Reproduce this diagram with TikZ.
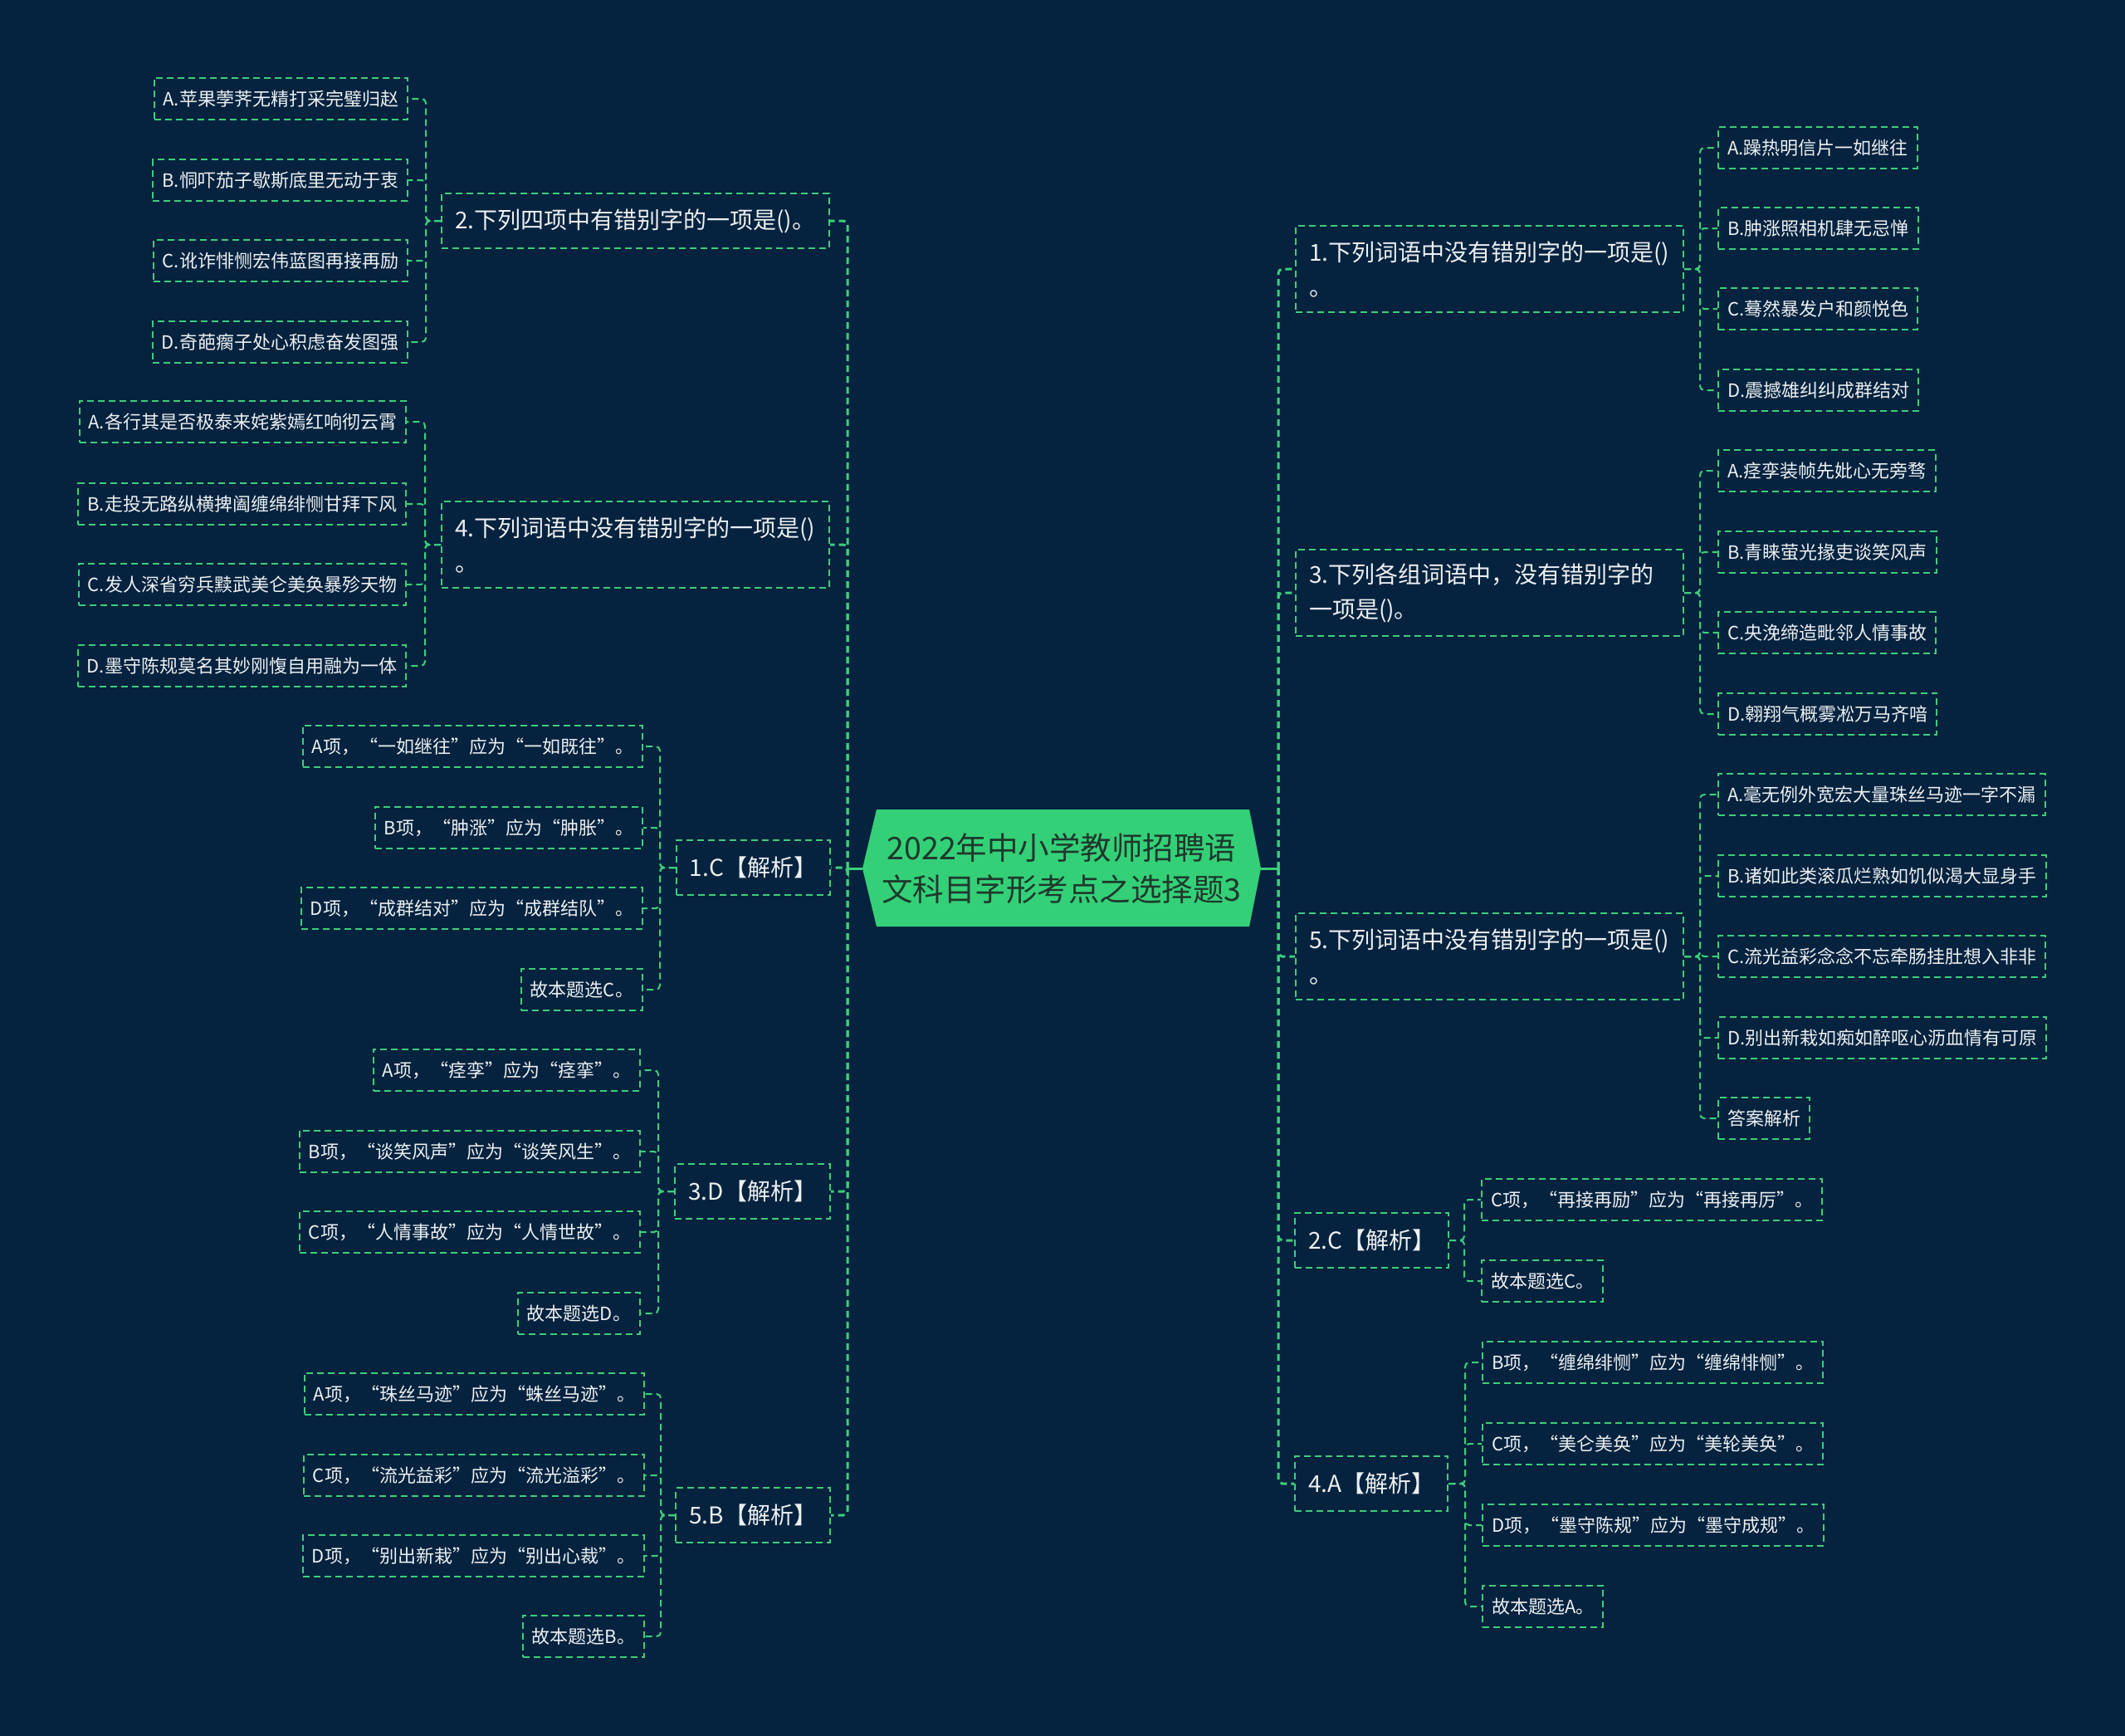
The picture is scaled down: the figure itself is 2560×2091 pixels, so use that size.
\documentclass[tikz,border=0pt]{standalone}
\usepackage{fontspec}
\newfontfamily\cjk{Noto Sans CJK SC}
\definecolor{bgc}{RGB}{5,34,62}
\definecolor{grn}{RGB}{60,207,122}
\definecolor{rootfill}{RGB}{52,208,120}
\definecolor{roottxt}{RGB}{30,56,44}
\definecolor{txt}{RGB}{236,240,242}
\begin{document}
\begin{tikzpicture}[x=1pt,y=-1pt,
  box/.style={draw=grn, line width=2pt, dash pattern=on 8pt off 5pt, text=txt},
  lvtwo/.style={box, font=\cjk\fontsize{22pt}{26pt}\selectfont, inner xsep=11pt, inner ysep=0pt, minimum height=50pt},
  lvone/.style={box, font=\cjk\fontsize{28pt}{42pt}\selectfont, inner xsep=16pt, inner ysep=0pt, minimum height=66pt},
  qbox/.style={lvone, text width=435pt, align=left},
  qtwo/.style={qbox, minimum height=104pt},
  conn/.style={draw=grn, line width=2pt, dash pattern=on 8pt off 5pt, rounded corners=5pt},
  mainconn/.style={conn, line width=3pt},
  rootconn/.style={draw=grn, line width=3pt}]
\useasboundingbox (0,0) rectangle (2560,2091);
\fill[bgc] (0,0) rectangle (2560,2091);
% root
\fill[rootfill] (1039,1046) -- (1056,975) -- (1505,975) -- (1519,1046) -- (1505,1116) -- (1056,1116) -- cycle;
\node[font=\cjk\fontsize{37.5pt}{50pt}\selectfont, text=roottxt, align=center, minimum width=480pt, minimum height=141pt, inner sep=0pt] (root) at (1279,1046) {2022年中小学教师招聘语\\文科目字形考点之选择题3};
\coordinate (Lsp) at (1021,1046);
\coordinate (Rsp) at (1540,1046);
\draw[rootconn] (root.west) -- (Lsp);
\draw[rootconn] (root.east) -- (Rsp);
% left level one
\node[qbox, anchor=east] (Q2) at (1000,266) {2.下列四项中有错别字的一项是()。};
\node[qtwo, anchor=east] (Q4) at (1000,656) {4.下列词语中没有错别字的一项是()\\。};
\node[lvone, anchor=east] (J1) at (1001,1045) {1.C【解析】};
\node[lvone, anchor=east] (J3) at (1001,1435) {3.D【解析】};
\node[lvone, anchor=east] (J5) at (1001,1825) {5.B【解析】};
\foreach \n in {Q2,Q4,J1,J3,J5} \draw[mainconn] (Lsp) |- (\n.east);
% right level one
\node[qtwo, anchor=west] (Q1) at (1560,324) {1.下列词语中没有错别字的一项是()\\。};
\node[qtwo, anchor=west] (Q3) at (1560,714) {3.下列各组词语中，没有错别字的\\一项是()。};
\node[qtwo, anchor=west] (Q5) at (1560,1152) {5.下列词语中没有错别字的一项是()\\。};
\node[lvone, anchor=west] (J2) at (1559,1494) {2.C【解析】};
\node[lvone, anchor=west] (J4) at (1559,1787) {4.A【解析】};
\foreach \n in {Q1,Q3,Q5,J2,J4} \draw[mainconn] (Rsp) |- (\n.west);
% Q2 children
\node[lvtwo, anchor=east] (Q2A) at (492,119) {A.苹果荸荠无精打采完璧归赵};
\node[lvtwo, anchor=east] (Q2B) at (492,217) {B.恫吓茄子歇斯底里无动于衷};
\node[lvtwo, anchor=east] (Q2C) at (492,314) {C.讹诈悱恻宏伟蓝图再接再励};
\node[lvtwo, anchor=east] (Q2D) at (492,412) {D.奇葩瘸子处心积虑奋发图强};
\coordinate (sQ2) at (513,266);
\foreach \n in {Q2A,Q2B,Q2C,Q2D} \draw[conn] (Q2.west) -- (sQ2) |- (\n.east);
% Q4 children
\node[lvtwo, anchor=east] (Q4A) at (490,508) {A.各行其是否极泰来姹紫嫣红响彻云霄};
\node[lvtwo, anchor=east] (Q4B) at (490,607) {B.走投无路纵横捭阖缠绵绯恻甘拜下风};
\node[lvtwo, anchor=east] (Q4C) at (490,704) {C.发人深省穷兵黩武美仑美奂暴殄天物};
\node[lvtwo, anchor=east] (Q4D) at (490,802) {D.墨守陈规莫名其妙刚愎自用融为一体};
\coordinate (sQ4) at (512,656);
\foreach \n in {Q4A,Q4B,Q4C,Q4D} \draw[conn] (Q4.west) -- (sQ4) |- (\n.east);
% J1 children
\node[lvtwo, anchor=east] (J1A) at (775,899) {A项，“一如继往”应为“一如既往”。};
\node[lvtwo, anchor=east] (J1B) at (775,997) {B项，“肿涨”应为“肿胀”。};
\node[lvtwo, anchor=east] (J1D) at (775,1094) {D项，“成群结对”应为“成群结队”。};
\node[lvtwo, anchor=east] (J1E) at (775,1192) {故本题选C。};
\coordinate (sJ1) at (795,1045);
\foreach \n in {J1A,J1B,J1D,J1E} \draw[conn] (J1.west) -- (sJ1) |- (\n.east);
% J3 children
\node[lvtwo, anchor=east] (J3A) at (772,1289) {A项，“痉孪”应为“痉挛”。};
\node[lvtwo, anchor=east] (J3B) at (772,1387) {B项，“谈笑风声”应为“谈笑风生”。};
\node[lvtwo, anchor=east] (J3C) at (772,1484) {C项，“人情事故”应为“人情世故”。};
\node[lvtwo, anchor=east] (J3E) at (772,1582) {故本题选D。};
\coordinate (sJ3) at (793,1435);
\foreach \n in {J3A,J3B,J3C,J3E} \draw[conn] (J3.west) -- (sJ3) |- (\n.east);
% J5 children
\node[lvtwo, anchor=east] (J5A) at (777,1679) {A项，“珠丝马迹”应为“蛛丝马迹”。};
\node[lvtwo, anchor=east] (J5C) at (777,1777) {C项，“流光益彩”应为“流光溢彩”。};
\node[lvtwo, anchor=east] (J5D) at (777,1874) {D项，“别出新栽”应为“别出心裁”。};
\node[lvtwo, anchor=east] (J5E) at (777,1971) {故本题选B。};
\coordinate (sJ5) at (796,1825);
\foreach \n in {J5A,J5C,J5D,J5E} \draw[conn] (J5.west) -- (sJ5) |- (\n.east);
% Q1 children
\node[lvtwo, anchor=west] (Q1A) at (2069,178) {A.躁热明信片一如继往};
\node[lvtwo, anchor=west] (Q1B) at (2069,275) {B.肿涨照相机肆无忌惮};
\node[lvtwo, anchor=west] (Q1C) at (2069,372) {C.蓦然暴发户和颜悦色};
\node[lvtwo, anchor=west] (Q1D) at (2069,470) {D.震撼雄纠纠成群结对};
\coordinate (sQ1) at (2048,324);
\foreach \n in {Q1A,Q1B,Q1C,Q1D} \draw[conn] (Q1.east) -- (sQ1) |- (\n.west);
% Q3 children
\node[lvtwo, anchor=west] (Q3A) at (2069,567) {A.痉孪装帧先妣心无旁骛};
\node[lvtwo, anchor=west] (Q3B) at (2069,665) {B.青睐萤光掾吏谈笑风声};
\node[lvtwo, anchor=west] (Q3C) at (2069,762) {C.央浼缔造毗邻人情事故};
\node[lvtwo, anchor=west] (Q3D) at (2069,860) {D.翱翔气概雾凇万马齐喑};
\coordinate (sQ3) at (2048,714);
\foreach \n in {Q3A,Q3B,Q3C,Q3D} \draw[conn] (Q3.east) -- (sQ3) |- (\n.west);
% Q5 children
\node[lvtwo, anchor=west] (Q5A) at (2069,957) {A.毫无例外宽宏大量珠丝马迹一字不漏};
\node[lvtwo, anchor=west] (Q5B) at (2069,1055) {B.诸如此类滚瓜烂熟如饥似渴大显身手};
\node[lvtwo, anchor=west] (Q5C) at (2069,1152) {C.流光益彩念念不忘牵肠挂肚想入非非};
\node[lvtwo, anchor=west] (Q5D) at (2069,1250) {D.别出新栽如痴如醉呕心沥血情有可原};
\node[lvtwo, anchor=west] (Q5E) at (2069,1347) {答案解析};
\coordinate (sQ5) at (2048,1152);
\foreach \n in {Q5A,Q5B,Q5C,Q5D,Q5E} \draw[conn] (Q5.east) -- (sQ5) |- (\n.west);
% J2 children
\node[lvtwo, anchor=west] (J2C) at (1784,1445) {C项，“再接再励”应为“再接再厉”。};
\node[lvtwo, anchor=west] (J2E) at (1784,1543) {故本题选C。};
\coordinate (sJ2) at (1764,1494);
\foreach \n in {J2C,J2E} \draw[conn] (J2.east) -- (sJ2) |- (\n.west);
% J4 children
\node[lvtwo, anchor=west] (J4B) at (1785,1641) {B项，“缠绵绯恻”应为“缠绵悱恻”。};
\node[lvtwo, anchor=west] (J4C) at (1785,1739) {C项，“美仑美奂”应为“美轮美奂”。};
\node[lvtwo, anchor=west] (J4D) at (1785,1837) {D项，“墨守陈规”应为“墨守成规”。};
\node[lvtwo, anchor=west] (J4E) at (1785,1935) {故本题选A。};
\coordinate (sJ4) at (1765,1787);
\foreach \n in {J4B,J4C,J4D,J4E} \draw[conn] (J4.east) -- (sJ4) |- (\n.west);
\end{tikzpicture}
\end{document}
